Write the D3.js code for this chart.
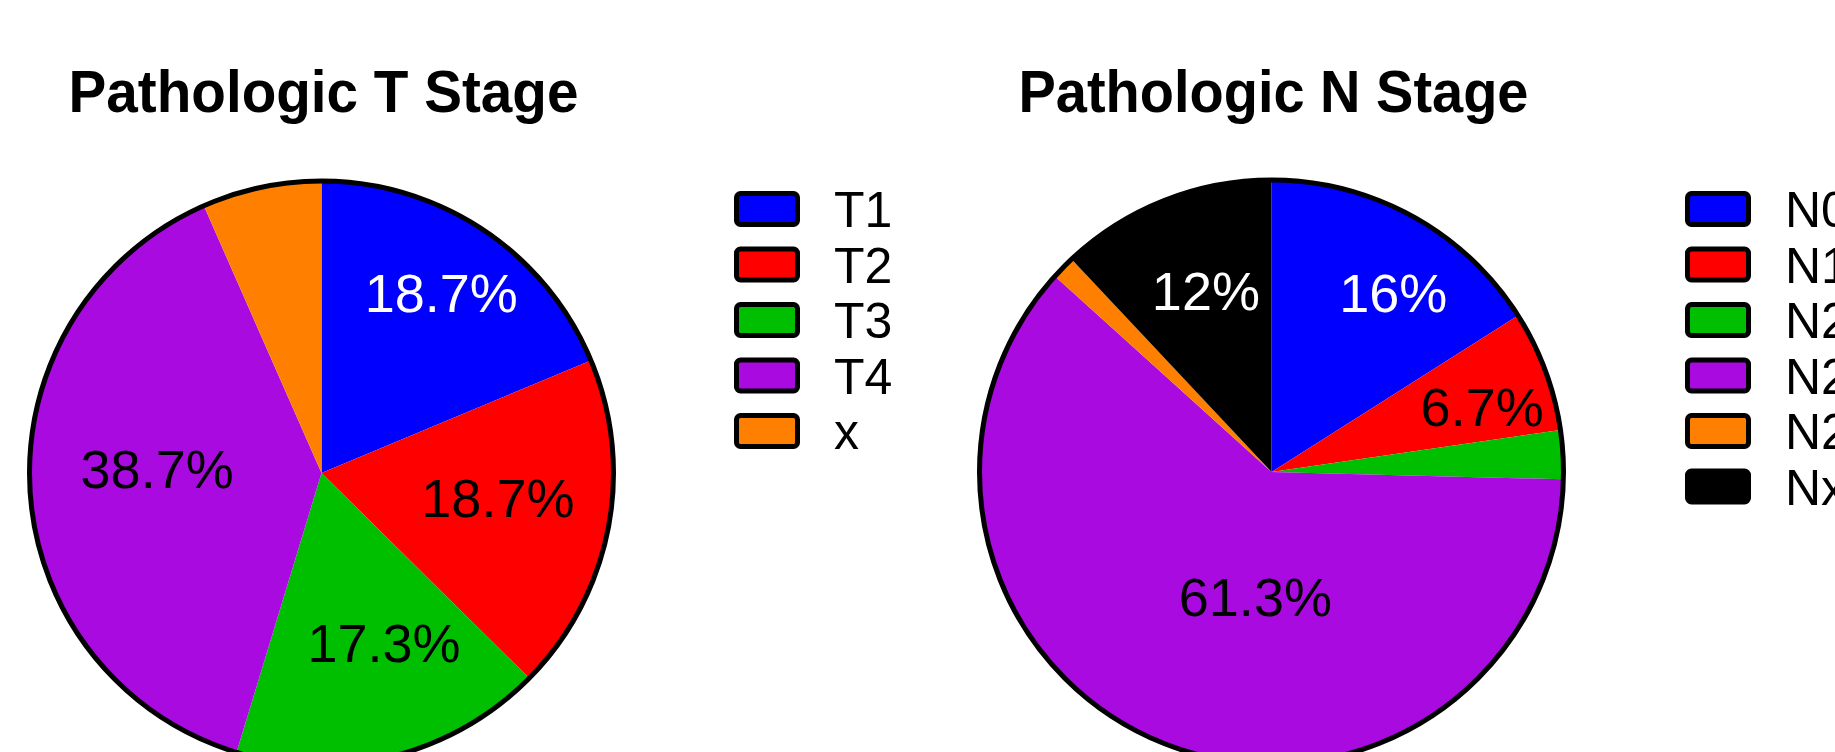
<!DOCTYPE html>
<html>
<head>
<meta charset="utf-8">
<script src="https://cdn.jsdelivr.net/npm/d3@7"></script>
<style>
  html, body { margin: 0; padding: 0; background: #fff; overflow: hidden; }
  svg { display: block; font-family: "Liberation Sans", Arial, sans-serif; }
</style>
</head>
<body>
<svg id="chart" width="1835" height="752"></svg>
<script>
// Pathologic T stage (percent of patients)
const tCategories = ["T1", "T2", "T3", "T4", "x"];
const tValues = [18.7, 18.7, 17.3, 38.7, 6.6];
const tLabels = ["18.7%", "18.7%", "17.3%", "38.7%", ""];

// Pathologic N stage (percent of patients)
const nCategories = ["N0", "N1", "N2a", "N2b", "N2c", "Nx"];
const nValues = [16, 6.7, 2.7, 61.3, 1.3, 12];
const nLabels = ["16%", "6.7%", "", "61.3%", "", "12%"];

const sliceColors = ["#0000ff", "#ff0000", "#00be00", "#a80ae0", "#ff8000", "#000000"];

// label placement: angular shift (degrees) and radius as a fraction of the pie radius
const tLabelShift = [[0, 0.74], [-3, 0.61], [-6, 0.62], [4.8, 0.563], [0, 0.6]];
const nLabelShift = [[5.5, 0.74], [3.2, 0.755], [0, 0.6], [-14.4, 0.43], [0, 0.6], [1.7, 0.66]];
const tLabelFill = ["#fff", "#000", "#000", "#000", "#000"];
const nLabelFill = ["#fff", "#000", "#000", "#000", "#000", "#fff"];

const svg = d3.select("#chart");
const R = 292;

function drawPie(opts) {
  const g = svg.append("g").attr("transform", `translate(${opts.cx},${opts.cy})`);
  const color = d3.scaleOrdinal().domain(opts.categories).range(sliceColors);
  const data = opts.categories.map((c, i) => ({ cat: c, value: opts.values[i], i }));
  const pie = d3.pie().value(d => d.value).sort(null);
  const arcs = pie(data);
  const arc = d3.arc().innerRadius(0).outerRadius(R);

  g.selectAll("path.slice").data(arcs).enter().append("path")
    .attr("class", "slice")
    .attr("d", arc)
    .attr("fill", d => color(d.data.cat));

  // outer rim
  g.append("circle").attr("r", R).attr("fill", "none")
    .attr("stroke", "#000").attr("stroke-width", 5);

  // percentage labels
  g.selectAll("text.pct").data(arcs).enter().append("text")
    .attr("class", "pct")
    .attr("transform", d => {
      const s = opts.shift[d.data.i];
      const mid = (d.startAngle + d.endAngle) / 2 + s[0] * Math.PI / 180;
      const r = s[1] * R;
      return `translate(${r * Math.sin(mid)},${-r * Math.cos(mid) + 19})`;
    })
    .attr("text-anchor", "middle")
    .attr("font-size", 54)
    .attr("fill", d => opts.labelFill[d.data.i])
    .text(d => opts.labels[d.data.i]);

  // title
  svg.append("text")
    .attr("x", opts.cx + 2).attr("y", 112)
    .attr("text-anchor", "middle")
    .attr("font-size", 60).attr("font-weight", "bold")
    .attr("textLength", 510).attr("lengthAdjust", "spacingAndGlyphs")
    .text(opts.title);

  // legend
  const leg = svg.append("g").attr("transform", `translate(${opts.legendX},191)`);
  const y = d3.scaleBand().domain(opts.categories).range([0, 55.5 * opts.categories.length]).paddingInner(0);
  const items = leg.selectAll("g").data(opts.categories).enter().append("g")
    .attr("transform", d => `translate(0,${y(d)})`);
  items.append("rect")
    .attr("x", 2.5).attr("y", 2.5).attr("width", 61).attr("height", 31)
    .attr("rx", 4).attr("ry", 4)
    .attr("fill", d => color(d)).attr("stroke", "#000").attr("stroke-width", 5);
  items.append("text")
    .attr("x", 100).attr("y", 36)
    .attr("font-size", 50)
    .text(d => d);
}

drawPie({
  title: "Pathologic T Stage", cx: 321.5, cy: 473,
  categories: tCategories, values: tValues, labels: tLabels,
  shift: tLabelShift, labelFill: tLabelFill, legendX: 734
});
drawPie({
  title: "Pathologic N Stage", cx: 1271.5, cy: 472,
  categories: nCategories, values: nValues, labels: nLabels,
  shift: nLabelShift, labelFill: nLabelFill, legendX: 1685
});
</script>
</body>
</html>
